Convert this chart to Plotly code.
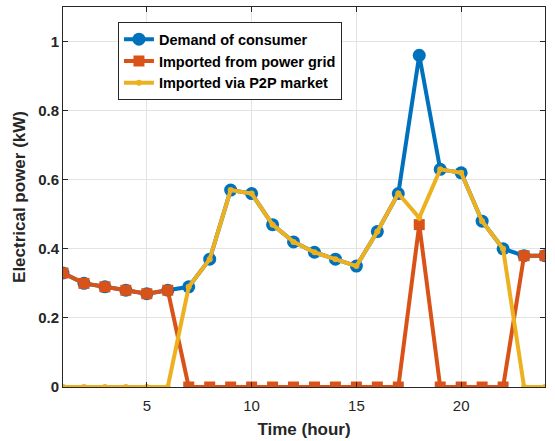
import plotly.graph_objects as go

hours = list(range(1, 25))
demand = [0.33, 0.30, 0.29, 0.28, 0.27, 0.28, 0.29, 0.37, 0.57, 0.56, 0.47, 0.42,
          0.39, 0.37, 0.35, 0.45, 0.56, 0.96, 0.63, 0.62, 0.48, 0.40, 0.38, 0.38]
grid = [0.33, 0.30, 0.29, 0.28, 0.27, 0.28, 0, 0, 0, 0, 0, 0,
        0, 0, 0, 0, 0, 0.47, 0, 0, 0, 0, 0.38, 0.38]
p2p = [0, 0, 0, 0, 0, 0, 0.29, 0.37, 0.57, 0.56, 0.47, 0.42,
       0.39, 0.37, 0.35, 0.45, 0.56, 0.49, 0.63, 0.62, 0.48, 0.40, 0, 0]
x_ticks = [5, 10, 15, 20]
y_ticks = [0, 0.2, 0.4, 0.6, 0.8, 1]
y_tick_labels = ["0", "0.2", "0.4", "0.6", "0.8", "1"]

BLUE = "#0072BD"
ORANGE = "#D95319"
YELLOW = "#EDB120"
TXT = "#262626"
FONT = "Liberation Sans, Arial, sans-serif"

fig = go.Figure()
fig.add_trace(go.Scatter(x=hours, y=demand, mode="lines+markers", name="Demand of consumer",
                         line=dict(color=BLUE, width=4),
                         marker=dict(symbol="circle", size=13, color=BLUE)))
fig.add_trace(go.Scatter(x=hours, y=grid, mode="lines+markers", name="Imported from power grid",
                         line=dict(color=ORANGE, width=4),
                         marker=dict(symbol="square", size=11, color=ORANGE)))
fig.add_trace(go.Scatter(x=hours, y=p2p, mode="lines+markers", name="Imported via P2P market",
                         line=dict(color=YELLOW, width=4),
                         marker=dict(symbol="circle", size=6, color=YELLOW)))

axis_common = dict(showline=True, linecolor=TXT, linewidth=1, mirror="ticks",
                   ticks="inside", ticklen=5, tickcolor=TXT, automargin=False,
                   showgrid=True, gridcolor="#e3e3e3", gridwidth=1, zeroline=False,
                   tickfont=dict(family=FONT, size=15, color=TXT))

fig.update_xaxes(range=[1, 24], tickvals=x_ticks,
                 title=dict(text="<b>Time (hour)</b>", font=dict(family=FONT, size=17, color=TXT),
                            standoff=10),
                 ticklabelstandoff=5,
                 tickprefix="<b>", ticksuffix="</b>", **axis_common)
fig.update_yaxes(range=[0, 1.1], tickvals=y_ticks, ticktext=["<b>%s</b>" % t for t in y_tick_labels],
                 title=dict(text="<b>Electrical power (kW)</b>", font=dict(family=FONT, size=17, color=TXT),
                            standoff=8),
                 **axis_common)

fig.update_layout(
    width=555, height=441,
    margin=dict(l=63, r=10, t=7, b=54),
    paper_bgcolor="white", plot_bgcolor="white",
    font=dict(family=FONT, color=TXT),
    legend=dict(x=0.114, y=0.96, xanchor="left", yanchor="top",
                bgcolor="white", bordercolor=TXT, borderwidth=1,
                font=dict(family=FONT, size=14.5, color="black"),
                tracegroupgap=0, itemwidth=30),
)
for tr in fig.data:
    tr.name = "<b>%s</b>" % tr.name

fig.write_html("out.html")
